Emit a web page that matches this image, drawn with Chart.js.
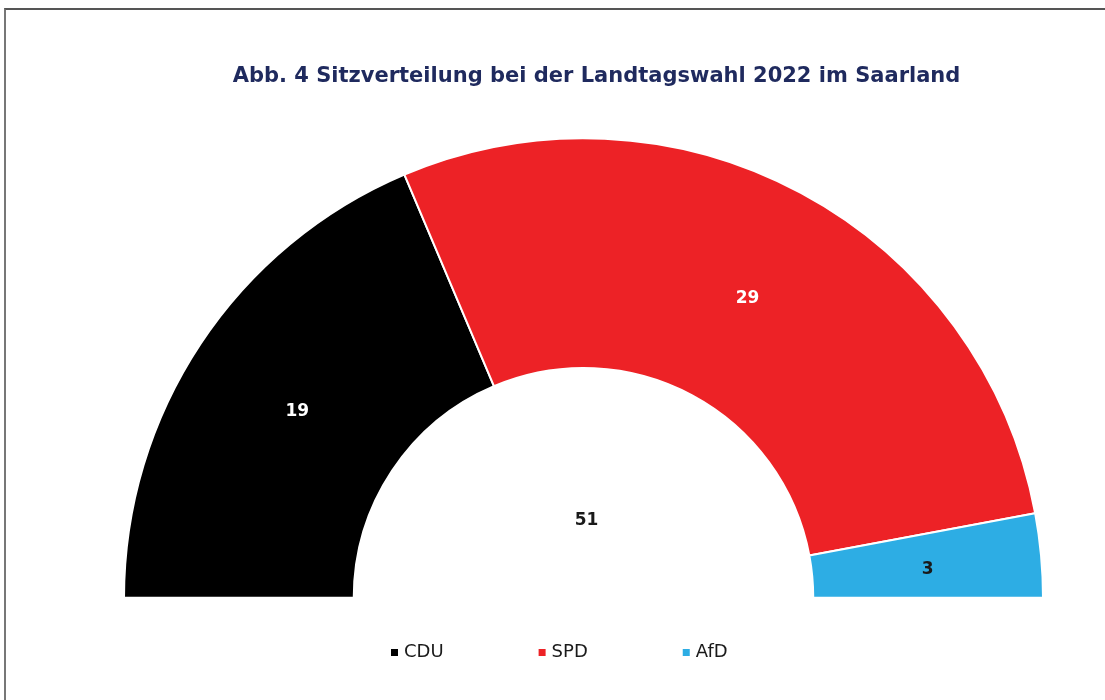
<!DOCTYPE html>
<html>
<head>
<meta charset="utf-8">
<script src="https://cdn.jsdelivr.net/npm/chart.js@4"></script>
<style>
  html, body { margin: 0; padding: 0; background: #fff; overflow: hidden; }
  #wrap { position: relative; width: 1105px; height: 700px; }
  #frame { position: absolute; left: 4px; top: 8px; width: 1300px; height: 900px;
           border-top: 2px solid #555; border-left: 2px solid #777; box-sizing: border-box; }
  canvas { position: absolute; left: 0; top: 0; }
</style>
</head>
<body>
<div id="wrap">
  <div id="frame"></div>
  <canvas id="c" width="1105" height="700"></canvas>
</div>
<script>
const titleText = 'Abb. 4 Sitzverteilung bei der Landtagswahl 2022 im Saarland';
const parties = ['CDU', 'SPD', 'AfD'];
const seats = [19, 29, 3];
const partyColors = ['#000000', '#ED2226', '#2DADE4'];
const labelColors = ['#ffffff', '#ffffff', '#1a1a1a'];

const FONT = '"DejaVu Sans", Verdana, sans-serif';

const overlay = {
  id: 'overlay',
  afterDraw(chart) {
    const ctx = chart.ctx;
    const meta = chart.getDatasetMeta(0);
    ctx.save();
    // title
    ctx.fillStyle = '#1F2A5E';
    ctx.font = 'bold 21px ' + FONT;
    ctx.textAlign = 'center';
    ctx.textBaseline = 'alphabetic';
    ctx.fillText(titleText, 596.5, 82);

    // value labels
    ctx.font = 'bold 17px ' + FONT;
    ctx.textBaseline = 'middle';
    meta.data.forEach((arc, i) => {
      const p = arc.tooltipPosition();
      ctx.fillStyle = labelColors[i];
      ctx.fillText(String(seats[i]), p.x + 1, p.y + 4);
    });
    // total in centre
    const total = seats.reduce((a, b) => a + b, 0);
    const a0 = meta.data[0];
    ctx.fillStyle = '#1a1a1a';
    ctx.fillText(String(total), a0.x + 3, a0.y - 77);

    // legend
    ctx.font = '18px ' + FONT;
    ctx.textAlign = 'left';
    let x = 391;
    const y = 652.5;
    parties.forEach((name, i) => {
      ctx.fillStyle = partyColors[i];
      ctx.fillRect(x, y - 3.5, 7, 7);
      ctx.fillStyle = '#1a1a1a';
      ctx.fillText(name, x + 13, y);
      const w = ctx.measureText(name).width;
      x += 13 + w + 95;
    });
    ctx.restore();
  }
};

new Chart(document.getElementById('c'), {
  type: 'doughnut',
  data: {
    labels: parties,
    datasets: [{
      data: seats,
      backgroundColor: partyColors,
      borderColor: '#ffffff',
      borderWidth: 2,
      hoverOffset: 0
    }]
  },
  options: {
    responsive: false,
    animation: false,
    rotation: -90,
    circumference: 180,
    cutout: '50%',
    layout: { padding: { left: 123, right: 61, top: 137, bottom: 101 } },
    plugins: {
      legend: { display: false },
      title: { display: false },
      tooltip: { enabled: false }
    }
  },
  plugins: [overlay]
});
</script>
</body>
</html>
